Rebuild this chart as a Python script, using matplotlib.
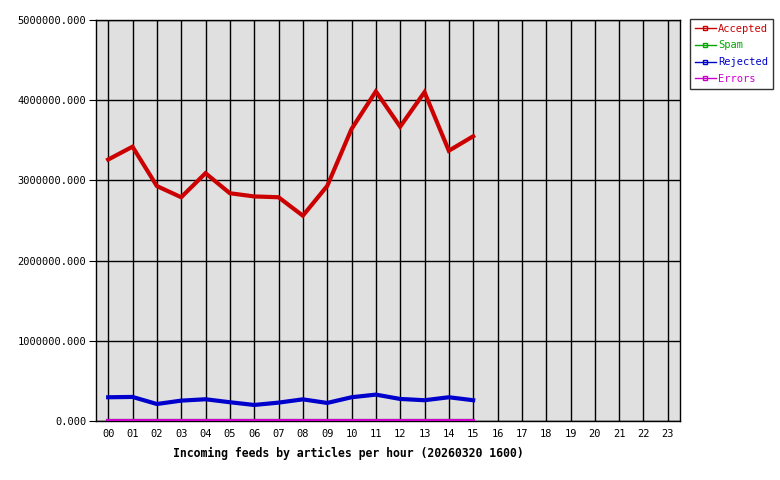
import matplotlib
matplotlib.use('Agg')
import matplotlib.pyplot as plt
from matplotlib.lines import Line2D
from matplotlib.ticker import FormatStrFormatter

# hourly incoming feed counts
hours = ['%02d' % h for h in range(24)]
accepted = [3260000, 3420000, 2930000, 2790000, 3090000, 2840000, 2800000, 2790000,
            2560000, 2930000, 3640000, 4110000, 3670000, 4100000, 3370000, 3550000]
spam = [0] * 16
rejected = [296000, 300000, 212000, 254000, 271000, 234000, 200000, 229000,
            270000, 225000, 296000, 329000, 275000, 259000, 296000, 259000]
errors = [0] * 16

series_names = ['Accepted', 'Spam', 'Rejected', 'Errors']
series_colors = ['#cc0000', '#00aa00', '#0000cc', '#cc00cc']

plt.rcParams['font.family'] = ['DejaVu Sans Mono']

fig = plt.figure(figsize=(7.8, 4.8), dpi=100)
ax = fig.add_axes([96 / 780, 59 / 480, 584 / 780, 401 / 480])
ax.set_facecolor('#e0e0e0')

x = list(range(len(accepted)))
for vals, col in zip([accepted, spam, rejected, errors], series_colors):
    ax.plot(x, vals, color=col, linewidth=3, solid_joinstyle='miter', zorder=3)

ax.set_xlim(-0.5, 23.5)
ax.set_ylim(0, 5000000)
ax.set_xticks(range(24))
ax.set_xticklabels(hours)
ax.set_yticks([0, 1000000, 2000000, 3000000, 4000000, 5000000])
ax.yaxis.set_major_formatter(FormatStrFormatter('%.3f'))
ax.grid(True, color='black', linewidth=1, zorder=1)
ax.set_axisbelow(True)
ax.tick_params(axis='x', length=0, labelsize=7.5, pad=6)
ax.tick_params(axis='y', length=5, labelsize=7.5, pad=2)
for s in ax.spines.values():
    s.set_linewidth(1)

ax.set_xlabel('Incoming feeds by articles per hour (20260320 1600)',
              fontsize=8.3, fontweight='bold')
# label sits left of the axes centre in the original
ax.xaxis.set_label_coords((348 - 96) / 584, -0.065)

handles = [Line2D([0], [0], color=c, linewidth=1, marker='s', markersize=3,
                  markerfacecolor='none', markeredgewidth=1) for c in series_colors]
leg = fig.legend(handles, series_names, loc='upper left',
                 bbox_to_anchor=(690 / 780, 1 - 19 / 480), fontsize=7.5,
                 frameon=True, fancybox=False, edgecolor='black',
                 handlelength=2.0, handletextpad=0.25, labelspacing=0.65,
                 borderpad=0.45, borderaxespad=0)
leg.get_frame().set_linewidth(1)
for t, c in zip(leg.get_texts(), series_colors):
    t.set_color(c)

fig.savefig('out.png', dpi=100)
